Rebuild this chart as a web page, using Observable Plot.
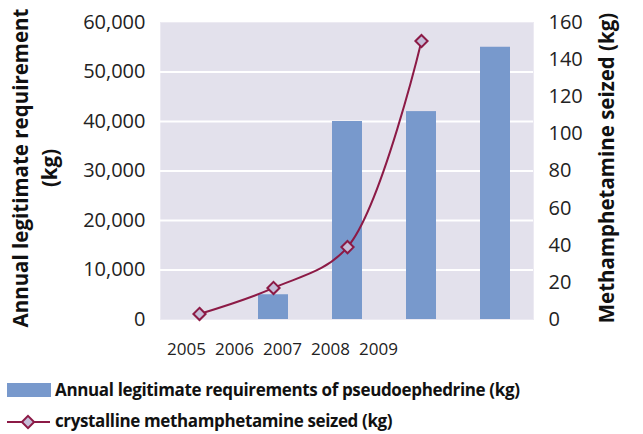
<!DOCTYPE html>
<html>
<head>
<meta charset="utf-8">
<script src="https://cdn.jsdelivr.net/npm/d3@7"></script>
<script src="https://cdn.jsdelivr.net/npm/@observablehq/plot@0.6"></script>
<style>
  html, body { margin: 0; padding: 0; background: #fff; }
  #wrap { position: relative; width: 643px; height: 434px; overflow: hidden; font-family: "Open Sans", sans-serif; }
  #wrap > * { position: absolute; left: 0; }
</style>
</head>
<body>
<div id="wrap"></div>
<script>
const years = ["2005", "2006", "2007", "2008", "2009"];
const requirements = [0, 5000, 40000, 42000, 55000];
const seized = [3, 17, 39, 150, null];
const leftTicks = [0, 10000, 20000, 30000, 40000, 50000, 60000];
const rightTicks = [0, 20, 40, 60, 80, 100, 120, 140, 160];
const gridTicks = [10000, 20000, 30000, 40000, 50000];
const leftTitle = "Annual legitimate requirement\n(kg)";
const rightTitle = "Methamphetamine seized (kg)";
const legendBar = "Annual legitimate requirements of pseudoephedrine (kg)";
const legendLine = "crystalline methamphetamine seized (kg)";

const ratio = 60000 / 160;
const barData = years.map((year, i) => ({year, value: requirements[i]}));
const lineData = years.map((year, i) => ({year, value: seized[i]})).filter(d => d.value != null);

const barColor = "#7899cc";
const lineColor = "#8c1a46";
const markerFill = "#c5bdd8";
const textColor = "#222";

const wrap = document.getElementById("wrap");

const main = Plot.plot({
  width: 643,
  height: 340,
  marginLeft: 160,
  marginRight: 110,
  marginTop: 22,
  marginBottom: 21,
  x: {domain: years, paddingInner: 0.6, paddingOuter: 0.3, axis: null},
  y: {domain: [0, 60000], axis: null},
  style: {fontFamily: "Open Sans", color: textColor, background: "transparent", overflow: "visible"},
  marks: [
    Plot.frame({fill: "#e3e1ec", stroke: "#eceaf2"}),
    Plot.ruleY(gridTicks, {stroke: "white", strokeWidth: 2}),
    Plot.barY(barData, {x: "year", y: "value", fill: barColor}),
    Plot.line(lineData, {x: "year", y: d => d.value * ratio, stroke: lineColor, strokeWidth: 2, curve: "catmull-rom"}),
    Plot.dot(lineData, {x: "year", y: d => d.value * ratio, symbol: "diamond2", r: 5.5, fill: markerFill, stroke: lineColor, strokeWidth: 2}),
    Plot.axisY(leftTicks, {anchor: "left", tickSize: 0, tickPadding: 15, tickFormat: d3.format(","), fontSize: 20, fill: textColor, label: null}),
    Plot.axisY(rightTicks.map(v => v * ratio), {anchor: "right", tickSize: 0, tickPadding: 15, tickFormat: d => String(Math.round(d / ratio)), fontSize: 20, fill: textColor, label: null}),
    Plot.text([leftTitle], {frameAnchor: "left", textAnchor: "middle", lineAnchor: "middle", rotate: -90, dx: -127, dy: -3, fontSize: 20.5, fontWeight: "bold", lineHeight: 1.42, fill: "#111"}),
    Plot.text([rightTitle], {frameAnchor: "right", textAnchor: "middle", lineAnchor: "middle", rotate: -90, dx: 74, dy: -3, fontSize: 20.5, fontWeight: "bold", fill: "#111"})
  ]
});
main.style.top = "0px";
wrap.appendChild(main);

// Year labels (offset row as in the reference)
const yearRow = Plot.plot({
  width: 643,
  height: 40,
  margin: 0,
  x: {type: "point", domain: years, range: [162, 402], axis: null},
  style: {fontFamily: "Open Sans", color: textColor, background: "transparent"},
  marks: [
    Plot.text(years, {x: d => d, frameAnchor: "middle", dy: -1, fontSize: 17, fill: textColor})
  ]
});
yearRow.style.top = "330px";
wrap.appendChild(yearRow);

// Legend
const leg = d3.create("svg").attr("width", 643).attr("height", 60)
  .style("font-family", "Open Sans").style("top", "374px");
leg.append("rect").attr("x", 7).attr("y", 9).attr("width", 44).attr("height", 14).attr("fill", barColor);
leg.append("text").attr("x", 55).attr("y", 16).attr("dy", "0.35em").attr("font-size", 17).attr("letter-spacing", "-0.35px").attr("font-weight", "bold").attr("fill", "#111").text(legendBar);
leg.append("line").attr("x1", 7).attr("x2", 50).attr("y1", 48).attr("y2", 48).attr("stroke", lineColor).attr("stroke-width", 2);
leg.append("path").attr("d", d3.symbol(d3.symbolDiamond2, Math.PI * 5.5 * 5.5)()).attr("transform", "translate(28,48)")
  .attr("fill", markerFill).attr("stroke", lineColor).attr("stroke-width", 2);
leg.append("text").attr("x", 55).attr("y", 47).attr("dy", "0.35em").attr("font-size", 17).attr("letter-spacing", "-0.37px").attr("font-weight", "bold").attr("fill", "#111").text(legendLine);
wrap.appendChild(leg.node());
</script>
</body>
</html>
